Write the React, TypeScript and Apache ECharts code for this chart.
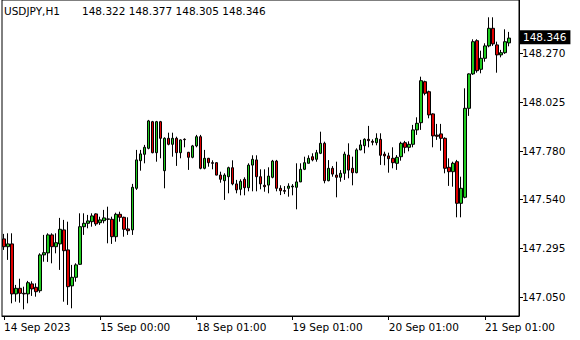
import React, { useEffect, useRef } from "react";
import * as echarts from "echarts";

const symbolName = "USDJPY,H1";

// OHLC per hourly bar
const opens = [
  147.342, 147.303, 147.317, 147.067, 147.095, 147.070, 147.067, 147.117, 147.100, 147.083,
  147.262, 147.272, 147.362, 147.303, 147.317, 147.387, 147.287, 147.107, 147.150, 147.215,
  147.403, 147.420, 147.428, 147.467, 147.423, 147.433, 147.442, 147.440, 147.353, 147.465,
  147.450, 147.392, 147.387, 147.595, 147.733, 147.765, 147.795, 147.928, 147.773, 147.928,
  147.683, 147.845, 147.815, 147.845, 147.773, 147.840, 147.775, 147.750, 147.807, 147.853,
  147.695, 147.745, 147.723, 147.723, 147.661, 147.633, 147.653, 147.698, 147.617, 147.590,
  147.640, 147.598, 147.711, 147.737, 147.653, 147.610, 147.611, 147.650, 147.731, 147.595,
  147.584, 147.595, 147.602, 147.600, 147.627, 147.690, 147.720, 147.753, 147.740, 147.770,
  147.820, 147.633, 147.695, 147.661, 147.650, 147.670, 147.761, 147.695, 147.673, 147.787,
  147.808, 147.840, 147.830, 147.823, 147.840, 147.766, 147.757, 147.745, 147.720, 147.753,
  147.823, 147.800, 147.815, 147.887, 147.923, 148.128, 148.078, 147.967, 147.861, 147.867,
  147.845, 147.700, 147.678, 147.728, 147.520, 147.550, 147.995, 148.167, 148.333, 148.190,
  148.245, 148.307, 148.395, 148.312, 148.262, 148.273, 148.322,
];
const closes = [
  147.303, 147.317, 147.067, 147.095, 147.070, 147.067, 147.123, 147.092, 147.078, 147.262,
  147.273, 147.362, 147.303, 147.323, 147.390, 147.283, 147.103, 147.150, 147.212, 147.403,
  147.420, 147.432, 147.457, 147.417, 147.437, 147.447, 147.440, 147.353, 147.465, 147.450,
  147.390, 147.383, 147.600, 147.737, 147.767, 147.800, 147.932, 147.773, 147.928, 147.845,
  147.845, 147.815, 147.845, 147.773, 147.837, 147.838, 147.750, 147.807, 147.853, 147.695,
  147.745, 147.723, 147.720, 147.661, 147.640, 147.661, 147.698, 147.617, 147.587, 147.630,
  147.598, 147.711, 147.740, 147.653, 147.617, 147.603, 147.656, 147.731, 147.595, 147.583,
  147.580, 147.606, 147.606, 147.627, 147.690, 147.723, 147.745, 147.737, 147.773, 147.820,
  147.633, 147.695, 147.666, 147.650, 147.670, 147.766, 147.686, 147.673, 147.787, 147.812,
  147.840, 147.833, 147.825, 147.845, 147.760, 147.757, 147.743, 147.723, 147.750, 147.820,
  147.800, 147.815, 147.887, 147.920, 148.133, 148.070, 147.962, 147.857, 147.855, 147.845,
  147.695, 147.678, 147.720, 147.520, 147.595, 147.995, 148.167, 148.328, 148.183, 148.245,
  148.307, 148.395, 148.317, 148.262, 148.273, 148.328, 148.346,
];
const lows = [
  147.287, 147.237, 147.020, 147.028, 147.023, 146.990, 147.020, 147.057, 147.053, 147.073,
  147.228, 147.227, 147.220, 147.270, 147.187, 147.028, 147.012, 146.995, 147.128, 147.212,
  147.362, 147.395, 147.403, 147.407, 147.412, 147.420, 147.320, 147.317, 147.328, 147.428,
  147.353, 147.362, 147.362, 147.587, 147.683, 147.720, 147.790, 147.770, 147.728, 147.745,
  147.595, 147.810, 147.753, 147.707, 147.745, 147.800, 147.687, 147.745, 147.800, 147.690,
  147.690, 147.703, 147.690, 147.660, 147.623, 147.537, 147.570, 147.610, 147.570, 147.560,
  147.560, 147.580, 147.580, 147.580, 147.590, 147.578, 147.570, 147.645, 147.580, 147.561,
  147.566, 147.553, 147.560, 147.490, 147.626, 147.686, 147.720, 147.730, 147.728, 147.766,
  147.620, 147.630, 147.653, 147.550, 147.628, 147.637, 147.645, 147.610, 147.670, 147.785,
  147.770, 147.800, 147.810, 147.810, 147.712, 147.710, 147.673, 147.695, 147.687, 147.733,
  147.770, 147.780, 147.800, 147.862, 147.887, 148.060, 147.945, 147.800, 147.837, 147.783,
  147.670, 147.607, 147.603, 147.450, 147.450, 147.545, 147.957, 148.162, 148.173, 148.170,
  148.228, 148.300, 148.307, 148.173, 148.250, 148.267, 148.305,
];
const highs = [
  147.367, 147.370, 147.370, 147.112, 147.143, 147.103, 147.132, 147.130, 147.120, 147.270,
  147.362, 147.370, 147.370, 147.370, 147.447, 147.437, 147.428, 147.212, 147.220, 147.470,
  147.470, 147.462, 147.470, 147.470, 147.453, 147.487, 147.503, 147.453, 147.473, 147.478,
  147.453, 147.450, 147.617, 147.787, 147.787, 147.812, 147.937, 147.932, 147.932, 147.932,
  147.850, 147.873, 147.873, 147.853, 147.840, 147.845, 147.777, 147.812, 147.862, 147.862,
  147.787, 147.747, 147.735, 147.725, 147.678, 147.670, 147.703, 147.735, 147.637, 147.640,
  147.650, 147.720, 147.760, 147.760, 147.690, 147.690, 147.700, 147.737, 147.737, 147.610,
  147.606, 147.620, 147.616, 147.720, 147.720, 147.753, 147.760, 147.770, 147.787, 147.878,
  147.828, 147.736, 147.706, 147.728, 147.686, 147.778, 147.820, 147.753, 147.795, 147.837,
  147.845, 147.907, 147.840, 147.870, 147.870, 147.778, 147.773, 147.800, 147.761, 147.828,
  147.832, 147.830, 147.912, 147.950, 148.153, 148.133, 148.083, 147.970, 147.917, 147.917,
  147.850, 147.745, 147.728, 147.737, 147.653, 148.095, 148.170, 148.340, 148.340, 148.283,
  148.320, 148.450, 148.450, 148.328, 148.287, 148.390, 148.377,
];

const xTickIndex = [0, 24, 48, 72, 96, 120];
const xTickLabels = ["14 Sep 2023", "15 Sep 00:00", "18 Sep 01:00", "19 Sep 01:00", "20 Sep 01:00", "21 Sep 01:00"];
const yTickValues = [147.05, 147.295, 147.54, 147.78, 148.025, 148.27];
const yMin = 146.9565;
const yMax = 148.5365;
const emptyBarsRight = 2;

const FONT = "DejaVu Sans";

export default function App() {
  const ref = useRef<HTMLDivElement>(null);
  useEffect(() => {
    if (!ref.current) return;
    const chart = echarts.init(ref.current, null, { renderer: "svg" });
    const total = opens.length + emptyBarsRight;
    const cats: string[] = [];
    for (let i = 0; i < total; i++) cats.push(String(i));
    const data: any[] = opens.map((o, i) => [o, closes[i], lows[i], highs[i]]);
    for (let i = 0; i < emptyBarsRight; i++) data.push("-");
    const n = opens.length - 1;
    const last = [opens[n], highs[n], lows[n], closes[n]].map((v) => v.toFixed(3)).join(" ");
    const isTick = (idx: number) => xTickIndex.indexOf(idx) >= 0;
    chart.setOption({
      animation: false,
      backgroundColor: "#fff",
      grid: {
        left: 2,
        right: 61,
        top: 0,
        bottom: 24,
        show: true,
        borderColor: "#000",
        borderWidth: 1,
        backgroundColor: "transparent",
      },
      graphic: [
        {
          type: "text",
          left: 4,
          top: 5,
          style: { text: symbolName, font: `10.5px "${FONT}"`, fill: "#000" },
        },
        {
          type: "text",
          left: 82,
          top: 5,
          style: { text: last, font: `10.5px "${FONT}"`, fill: "#000" },
        },
      ],
      xAxis: {
        type: "category",
        data: cats,
        boundaryGap: true,
        axisLine: { show: true, lineStyle: { color: "#000", width: 1 } },
        axisTick: {
          show: true,
          alignWithLabel: true,
          interval: (idx: number) => isTick(idx),
          length: 4,
          lineStyle: { color: "#000" },
        },
        axisLabel: {
          interval: (idx: number) => isTick(idx),
          formatter: (_v: string, idx: number) => xTickLabels[xTickIndex.indexOf(idx)] ?? "",
          align: "left",
          margin: 5,
          color: "#000",
          fontFamily: FONT,
          fontSize: 10.5,
        },
        splitLine: { show: false },
      },
      yAxis: {
        type: "value",
        position: "right",
        min: yMin,
        max: yMax,
        scale: true,
        axisLine: { show: true, lineStyle: { color: "#000", width: 1 } },
        axisTick: {
          show: true,
          inside: false,
          length: 4,
          customValues: yTickValues,
          lineStyle: { color: "#000" },
        },
        axisLabel: {
          show: true,
          customValues: yTickValues,
          formatter: (v: number) => v.toFixed(3),
          margin: 3,
          color: "#000",
          fontFamily: FONT,
          fontSize: 10.5,
        },
        splitLine: { show: false },
      },
      series: [
        {
          type: "candlestick",
          data,
          barWidth: 3,
          itemStyle: {
            color: "#1fcb1f",
            color0: "#e00000",
            borderColor: "#000",
            borderColor0: "#000",
            borderWidth: 1,
          },
          emphasis: { disabled: true },
          markLine: {
            silent: true,
            symbol: ["none", "none"],
            lineStyle: { color: "rgba(0,0,0,0)", width: 1, type: "solid" },
            data: [{ yAxis: closes[n] }],
            label: {
              show: true,
              position: "end",
              distance: 1,
              formatter: closes[n].toFixed(3),
              backgroundColor: "#000",
              color: "#fff",
              padding: [2, 4, 1, 3],
              fontFamily: FONT,
              fontSize: 10.5,
            },
          },
        },
      ],
    });
    return () => chart.dispose();
  }, []);
  return (
    <div
      ref={ref}
      style={{ position: "fixed", left: 0, top: 0, width: 580, height: 340, background: "#fff" }}
    />
  );
}
